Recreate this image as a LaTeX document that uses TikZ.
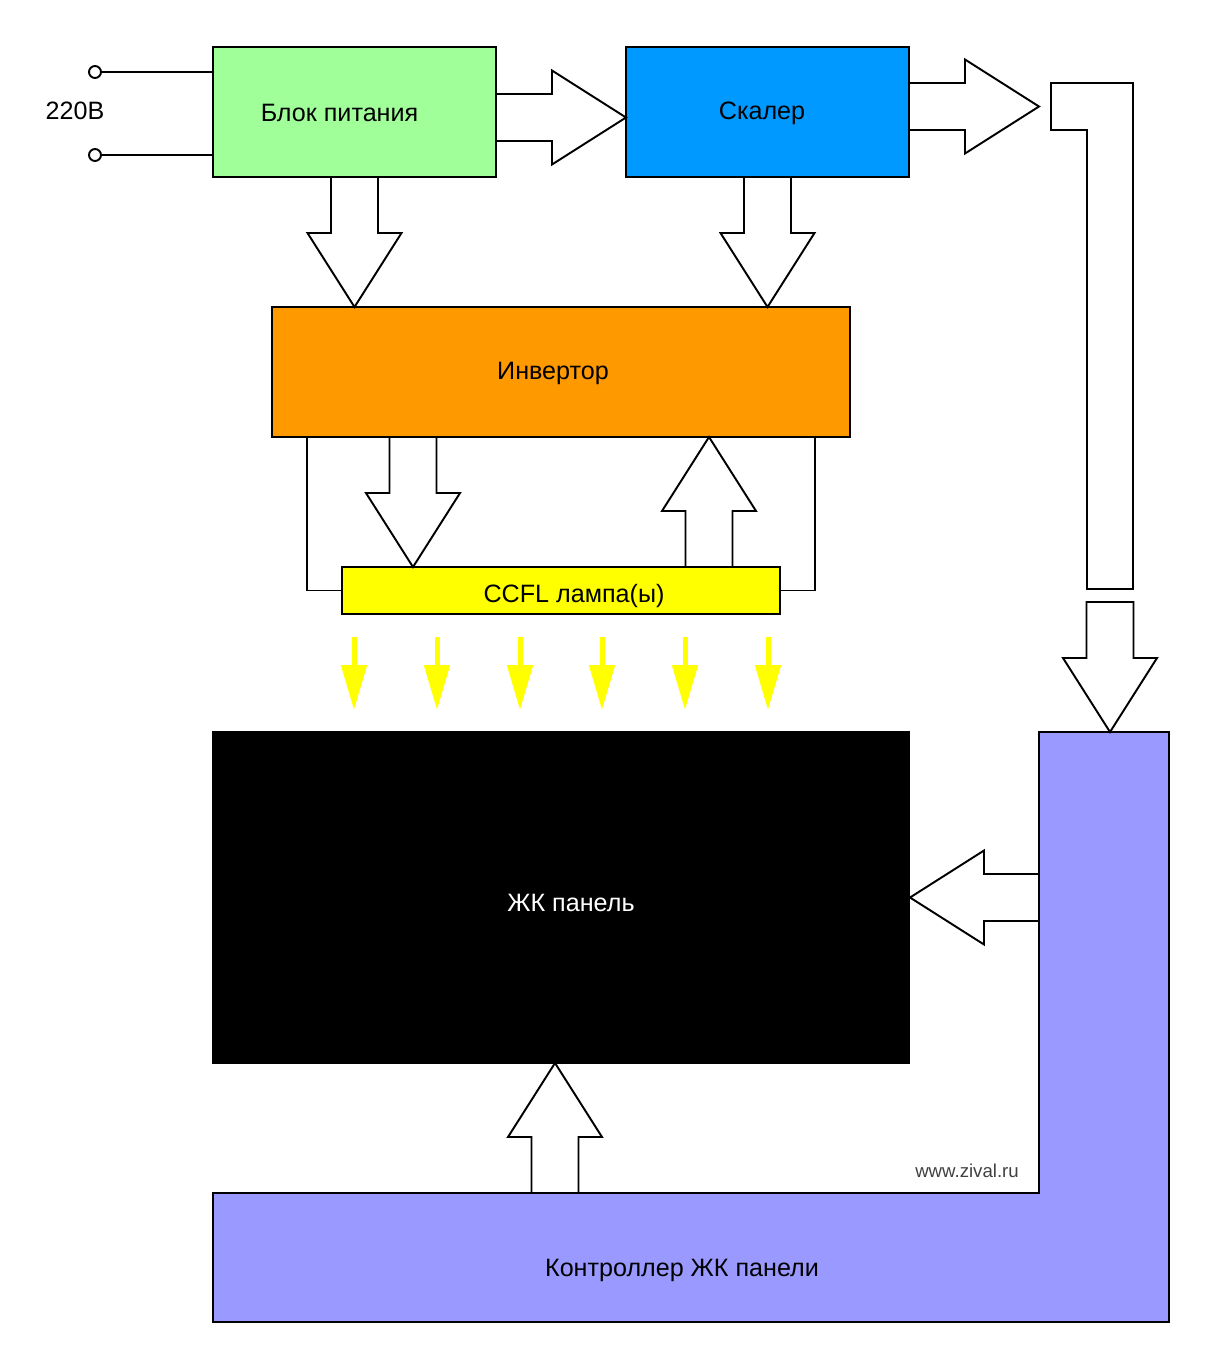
\documentclass[tikz,border=0pt]{standalone}
\usepackage{fontspec}
\setmainfont{Liberation Sans}
\usepackage{tikz}
\usetikzlibrary{arrows.meta,positioning,calc}
\usepackage{xcolor}
\definecolor{psugreen}{RGB}{160,255,152}
\definecolor{scalerblue}{RGB}{0,153,255}
\definecolor{invorange}{RGB}{255,153,0}
\definecolor{lampyellow}{RGB}{255,255,0}
\definecolor{ctrlviolet}{RGB}{153,153,255}

% hollow block arrow, argument = length (tail to tip)
\tikzset{
  pics/fatarrow/.style={code={
    \draw[line width=1.1pt, fill=white]
      (0,-23.5) -- ({#1-74},-23.5) -- ({#1-74},-47) -- (#1,0)
      -- ({#1-74},47) -- ({#1-74},23.5) -- (0,23.5) -- cycle;
  }}
}

\begin{document}
\begin{tikzpicture}[x=0.2mm, y=-0.2mm,
    box/.style={draw, line width=1.1pt, inner sep=0pt, outer sep=0pt},
    boxtext/.style={font=\fontsize{14.3}{16}\selectfont},
    terminal/.style={draw, circle, line width=1.1pt, fill=white, minimum size=2.4mm, inner sep=0pt},
    wire/.style={line width=1.1pt},
    lightray/.style={draw=lampyellow, line width=1mm, -{Triangle[length=9mm,width=5mm]}}]
    \useasboundingbox (0,0) rectangle (1217,1370);

    % Power supply and scaler
    \node[box, fill=psugreen, minimum width=56.6mm, minimum height=26mm] (psu) at (354.5,112) {};
    \node[boxtext] (psutext) at ($(psu.center)+(-15,1)$) {Блок питания};
    \node[box, fill=scalerblue, minimum width=56.6mm, minimum height=26mm] (scaler) at (767.5,112) {};
    \node[boxtext] (scalertext) at ($(scaler.center)+(-5.5,1)$) {Скалер};

    % Mains input
    \node[terminal] (mainsa) at (95,72) {};
    \node[terminal] (mainsb) at (95,155) {};
    \draw[wire] (mainsa) -- (mainsa -| psu.west);
    \draw[wire] (mainsb) -- (mainsb -| psu.west);
    \node[boxtext] (mains) at (75,111) {220В};

    % Inverter and lamps
    \node[box, fill=invorange, minimum width=115.6mm, minimum height=26mm] (inverter) at (561,372) {};
    \node[boxtext] (invtext) at ($(inverter.center)+(-8,1)$) {Инвертор};
    \node[box, fill=lampyellow, minimum width=87.6mm, minimum height=9.4mm] (ccfl) at (561,590.5) {};
    \node[boxtext] (ccfltext) at ($(ccfl.center)+(13,5.5)$) {CCFL лампа(ы)};
    \draw[wire] (ccfl.west) -| ($(inverter.south west)+(35,0)$);
    \draw[wire] (ccfl.east) -| ($(inverter.south east)+(-35,0)$);

    % Light from the lamps
    \foreach \x in {354,437,520,602,685,768}
        \draw[lightray] (\x,637) -- (\x,710);

    % LCD panel
    \node[box, fill=black, minimum width=139.2mm, minimum height=66.2mm] (lcd) at (561,897.5) {};
    \node[boxtext, text=white] (lcdtext) at ($(lcd.center)+(10,5.5)$) {ЖК панель};

    % Panel controller (L shape)
    \draw[wire, fill=ctrlviolet] (1039,732) coordinate (ctrlnw) -- (1169,732) -- (1169,1322)
        -- (213,1322) -- (213,1193) -- (1039,1193) coordinate (ctrlcorner) -- cycle;
    \node[boxtext] (ctrltext) at (682,1270) {Контроллер ЖК панели};
    \node[font=\fontsize{10.6}{12}\selectfont, text=black!75] (site) at (967,1171) {www.zival.ru};

    % Signal bus from scaler to controller
    \draw[wire, fill=white] (1051,83) -- (1133,83) -- (1133,589) -- (1087,589)
        -- (1087,130) -- (1051,130) -- cycle;

    % Block arrows
    \pic at ($(psu.east)+(0,5.5)$) {fatarrow=130};
    \pic at ($(scaler.east)+(0,-5.5)$) {fatarrow=130};
    \pic[rotate=-90] at (psu.south) {fatarrow=130};
    \pic[rotate=-90] at (scaler.south) {fatarrow=130};
    \pic[rotate=-90] at ($(inverter.south)+(-148,0)$) {fatarrow=130};
    \pic[rotate=90] at ($(ccfl.north)+(148,0)$) {fatarrow=130};
    \pic[rotate=-90] at ($(ctrlnw)+(71,-130)$) {fatarrow=130};
    \pic[rotate=180] at (lcd.east -| ctrlnw) {fatarrow=129};
    \pic[rotate=90] at ($(lcd.south)+(-6,130)$) {fatarrow=130};
\end{tikzpicture}
\end{document}
